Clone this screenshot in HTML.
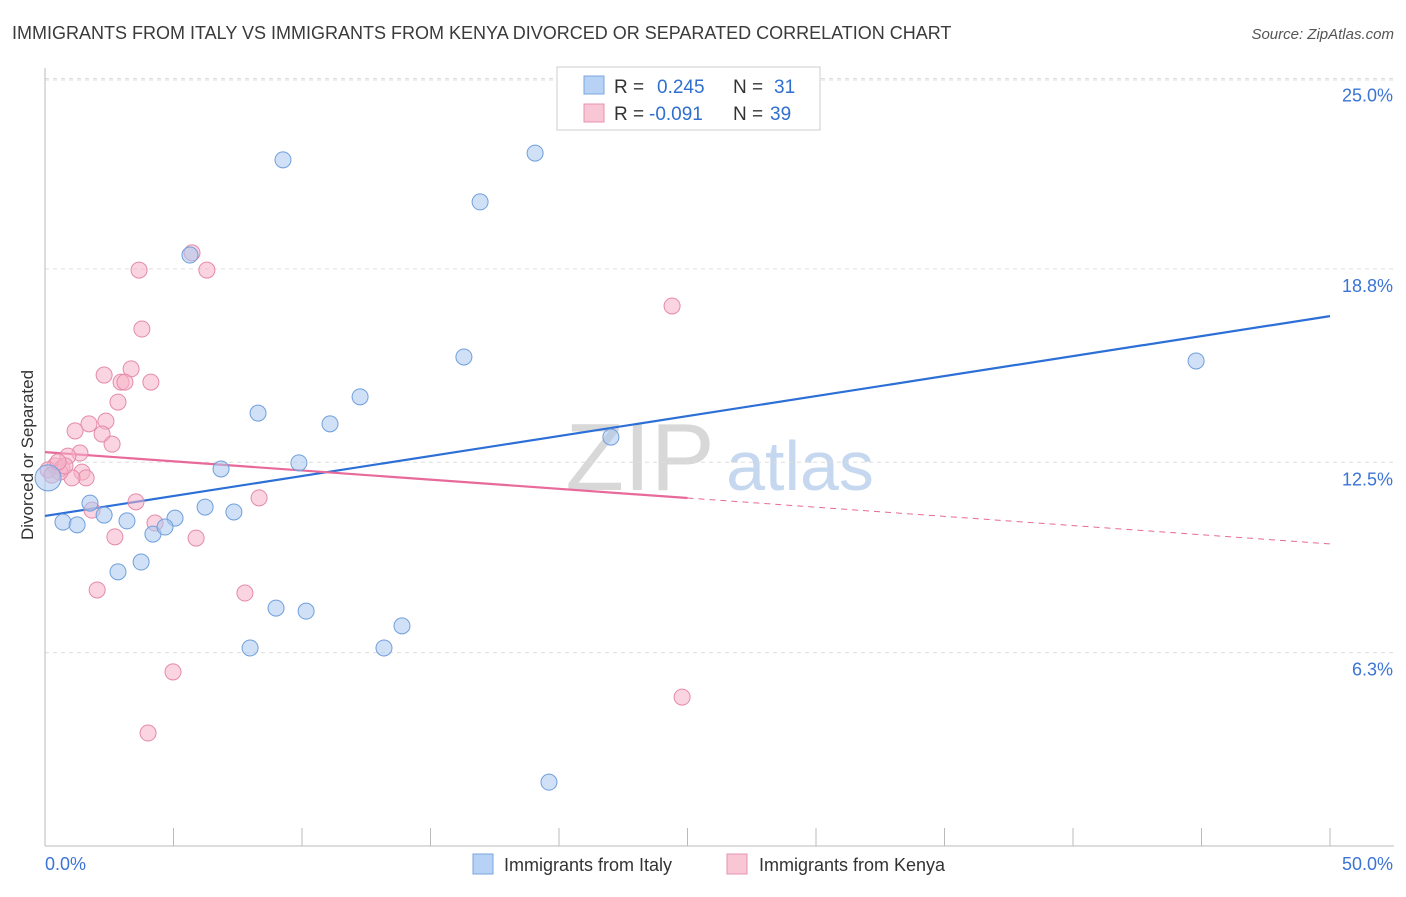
<!DOCTYPE html>
<html><head><meta charset="utf-8"><style>
body{margin:0;background:#fff;font-family:"Liberation Sans",sans-serif;}
svg text{font-family:"Liberation Sans",sans-serif;}
</style></head><body>
<svg width="1406" height="892" xmlns="http://www.w3.org/2000/svg">
<text x="12" y="39" font-size="18" fill="#3a3a3a">IMMIGRANTS FROM ITALY VS IMMIGRANTS FROM KENYA DIVORCED OR SEPARATED CORRELATION CHART</text>
<text x="1394" y="39" font-size="15" fill="#555" text-anchor="end" font-style="italic">Source: ZipAtlas.com</text>
<text x="0" y="0" transform="translate(33,455) rotate(-90)" font-size="17" fill="#333" text-anchor="middle">Divorced or Separated</text>
<text x="640" y="490" font-size="96" fill="#d8d8d8" font-family="Liberation Serif" text-anchor="middle">ZIP</text>
<text x="800" y="490" font-size="70" fill="#c5d8ef" text-anchor="middle">atlas</text>
<g id="grid"></g><g id="axes"></g><g id="lines"></g><g id="pts"></g>
<g>
<rect x="557" y="67" width="263" height="63" fill="#fff" stroke="#ccc"/>
<rect x="584" y="76" width="20" height="18" fill="#b7d2f5" stroke="#7aa6e0"/>
<text x="614" y="93" font-size="19" fill="#333">R = </text><text x="657" y="93" font-size="19" fill="#2f6fd0">0.245</text>
<text x="733" y="93" font-size="19" fill="#333">N = </text><text x="774" y="93" font-size="19" fill="#2f6fd0">31</text>
<rect x="584" y="104" width="20" height="18" fill="#f8c6d5" stroke="#e893ae"/>
<text x="614" y="120" font-size="19" fill="#333">R = </text><text x="649" y="120" font-size="19" fill="#2f6fd0">-0.091</text>
<text x="733" y="120" font-size="19" fill="#333">N = </text><text x="770" y="120" font-size="19" fill="#2f6fd0">39</text>
</g>
<g>
<rect x="473" y="854" width="20" height="20" fill="#b7d2f5" stroke="#7aa6e0"/>
<text x="504" y="871" font-size="18" fill="#333">Immigrants from Italy</text>
<rect x="727" y="854" width="20" height="20" fill="#f8c6d5" stroke="#e893ae"/>
<text x="759" y="871" font-size="18" fill="#333">Immigrants from Kenya</text>
</g>
</svg>
<script>
const yTicks=[6.3,12.5,18.8,25.0];
const yTickLabels=["6.3%","12.5%","18.8%","25.0%"];
const xTickCount=10;
const italyX=[9.26,19.07,16.93,5.64,16.30,44.79,12.26,8.29,11.09,22.02,9.88,6.85,0.12,1.75,2.30,6.23,7.35,0.70,1.25,3.19,5.06,4.20,4.67,3.74,2.84,8.99,10.16,13.89,7.98,13.19,19.61];
const italyY=[22.35,22.57,20.98,19.25,15.93,15.80,14.63,14.10,13.75,13.32,12.48,12.28,11.99,11.17,10.78,11.04,10.88,10.55,10.46,10.59,10.68,10.16,10.39,9.25,8.93,7.75,7.65,7.17,6.45,6.45,2.08];
const kenyaX=[5.72,3.66,6.30,24.40,3.77,3.35,2.30,2.96,3.11,4.12,2.84,1.71,2.37,1.17,2.22,2.61,1.36,0.89,0.39,0.66,0.12,1.44,1.60,1.05,0.58,3.54,8.33,1.83,4.28,2.72,5.88,2.03,7.78,4.98,24.79,4.01,0.78,0.27,0.51];
const kenyaY=[19.32,18.76,18.76,17.59,16.84,15.54,15.34,15.11,15.11,15.11,14.46,13.75,13.84,13.52,13.42,13.09,12.80,12.70,12.38,12.31,12.25,12.18,11.99,11.99,12.18,11.21,11.34,10.94,10.52,10.07,10.03,8.34,8.24,5.67,4.85,3.68,12.38,12.08,12.51];
const italyTrend=[10.75,17.26];
const kenyaTrend=[12.83,9.84];
const NS="http://www.w3.org/2000/svg";
const sx=v=>45+v*25.7, sy=v=>846-v*30.7;
function mk(tag,attrs,parent){const e=document.createElementNS(NS,tag);for(const k in attrs)e.setAttribute(k,attrs[k]);document.getElementById(parent).appendChild(e);return e;}
yTicks.forEach((t,i)=>{
 const g=mk('line',{x1:45,x2:1394,y1:sy(t),y2:sy(t),stroke:'#ddd','stroke-dasharray':'4,4'},'grid');
 
 
 const l=mk('text',{x:1393,y:sy(t)+23,'font-size':18,fill:'#3b74d6','text-anchor':'end'},'grid');
 l.textContent=yTickLabels[i];
 
 
});
const gl=mk('line',{x1:45,x2:1394,y1:80,y2:80,stroke:'#ddd','stroke-dasharray':'4,4'},'grid');
mk('line',{x1:45,x2:45,y1:68,y2:846,stroke:'#bbb'},'axes');
mk('line',{x1:45,x2:1394,y1:846,y2:846,stroke:'#bbb'},'axes');
for(let i=0;i<=xTickCount;i++){const t=mk('line',{x1:sx(i*5),x2:sx(i*5),y1:828,y2:846,stroke:'#bbb'},'axes');
 
 }
const x0=mk('text',{x:45,y:870,'font-size':18,fill:'#3b74d6'},'axes');x0.textContent='0.0%';


const x1=mk('text',{x:1393,y:870,'font-size':18,fill:'#3b74d6','text-anchor':'end'},'axes');x1.textContent='50.0%';


function pts(xs,ys,fill,stroke,name){xs.forEach((x,i)=>{const c=mk('circle',{cx:sx(x),cy:sy(ys[i]),r:(name==='italy-point'&&i===12)?13:8,fill:fill,'fill-opacity':0.55,stroke:stroke,'stroke-width':1},'pts');
 
 });}
pts(kenyaX,kenyaY,'#f5b3c8','#e58aa8','kenya-point');
pts(italyX,italyY,'#a9c8f0','#6f9fdc','italy-point');
const bl=mk('line',{x1:sx(0),y1:sy(italyTrend[0]),x2:sx(50),y2:sy(italyTrend[1]),stroke:'#2c6fd6','stroke-width':2.2},'lines');


const km=(kenyaTrend[0]+kenyaTrend[1])/2;
const pl=mk('line',{x1:sx(0),y1:sy(kenyaTrend[0]),x2:sx(25),y2:sy(km),stroke:'#e8699a','stroke-width':2.2},'lines');


const pd=mk('line',{x1:sx(25),y1:sy(km),x2:sx(50),y2:sy(kenyaTrend[1]),stroke:'#e8699a','stroke-width':1,'stroke-dasharray':'6,5'},'lines');


</script>
</body></html>
